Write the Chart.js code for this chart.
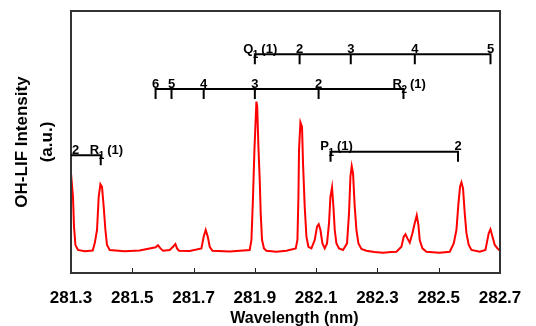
<!DOCTYPE html>
<html>
<head>
<meta charset="utf-8">
<script src="https://cdn.jsdelivr.net/npm/chart.js@4/dist/chart.umd.min.js"></script>
<style>
  html, body { margin: 0; padding: 0; background: #fff; }
  #wrap { width: 536px; height: 326px; position: relative; }
</style>
</head>
<body>
<div id="wrap"><canvas id="lifChart"></canvas></div>
<script>
// spectrum (intensity in arbitrary units, 0..100 = frame height)
var WAVELENGTH = [
  281.300, 281.3065, 281.3098, 281.3144, 281.3228, 281.345, 281.3708, 281.3774, 281.3849, 281.3904,
  281.396, 281.4012, 281.4067, 281.4123, 281.4175, 281.4263, 281.475, 281.524, 281.5764, 281.5839,
  281.5918, 281.6003, 281.6221, 281.6329, 281.6407, 281.646, 281.6525, 281.6874, 281.7256, 281.7331,
  281.7396, 281.7462, 281.7527, 281.7615, 281.818, 281.8832, 281.8888, 281.894, 281.8986, 281.9051,
  281.9077, 281.9116, 281.9159, 281.9191, 281.9234, 281.9299, 281.9377, 281.9704, 282.003, 282.0334,
  282.0389, 282.0422, 282.0441, 282.0487, 282.0539, 282.0572, 282.0627, 282.0683, 282.0748, 282.0846,
  282.0954, 282.1029, 282.1084, 282.114, 282.1205, 282.128, 282.1355, 282.142, 282.1466, 282.1518,
  282.1564, 282.1607, 282.1662, 282.1747, 282.1877, 282.2008, 282.2073, 282.2119, 282.2161, 282.2204,
  282.2259, 282.2315, 282.238, 282.2478, 282.2641, 282.29, 282.3183, 282.345, 282.362, 282.3783,
  282.3858, 282.3914, 282.3979, 282.4054, 282.4142, 282.4217, 282.4283, 282.4338, 282.438, 282.4469,
  282.46, 282.48, 282.5033, 282.536, 282.549, 282.5578, 282.5644, 282.5696, 282.5742, 282.5794,
  282.5849, 282.5905, 282.598, 282.6068, 282.6339, 282.6525, 282.6577, 282.6632, 282.6688, 282.6753,
  282.6829, 282.6916, 282.700
];
var INTENSITY = [
  38.0, 29.1, 17.7, 10.7, 8.8, 8.3, 8.6, 11.3, 16.4, 29.1,
  33.9, 32.9, 25.3, 16.4, 10.7, 8.8, 8.3, 8.6, 9.8, 10.6,
  9.4, 8.5, 8.8, 10.0, 11.1, 9.4, 8.5, 8.4, 9.4, 13.9,
  16.4, 13.9, 10.0, 8.5, 8.2, 8.8, 12.6, 29.1, 46.9, 65.4,
  63.5, 48.2, 35.5, 22.8, 12.6, 9.4, 8.5, 8.1, 8.5, 9.4,
  12.6, 29.1, 46.9, 57.5, 55.8, 41.9, 25.3, 13.9, 10.0, 9.4,
  12.6, 17.7, 18.6, 16.4, 11.3, 9.4, 11.3, 19.0, 29.1, 32.7,
  25.3, 16.4, 11.3, 9.4, 8.8, 11.3, 22.8, 36.8, 40.8, 38.0,
  25.3, 16.4, 11.3, 9.2, 8.5, 8.0, 7.7, 8.0, 8.1, 10.0,
  13.9, 14.8, 13.2, 11.6, 15.2, 19.0, 22.0, 18.3, 12.6, 9.4,
  8.1, 7.9, 7.7, 8.1, 11.3, 16.4, 26.6, 32.9, 34.6, 32.3,
  22.8, 15.2, 10.7, 8.8, 8.1, 8.8, 11.9, 15.2, 16.7, 13.9,
  10.7, 9.4, 8.5
];
var X_TICKS = [281.3, 281.5, 281.7, 281.9, 282.1, 282.3, 282.5, 282.7];

// rotational branches: name, bar level, line positions for N = 1, 2, 3 ...
var BRANCH_NAMES = ['Q1', 'R2', 'R1', 'P1'];
var BRANCH_LEVEL = [83.5, 70.2, 44.9, 46.3];
var Q1_LINES = [281.900, 282.046, 282.213, 282.422, 282.669];
var R2_LINES = [282.385, 282.108, 281.900, 281.733, 281.628, 281.576];
var R1_LINES = [281.397, 281.290];
var P1_LINES = [282.147, 282.563];
var BRANCH_LINES = [Q1_LINES, R2_LINES, R1_LINES, P1_LINES];

var FONT = "'Liberation Sans', Arial, sans-serif";
Chart.defaults.font.family = FONT;
Chart.defaults.color = '#000';

var branchPlugin = {
  id: 'branches',
  afterDatasetsDraw: function(chart) {
    var ctx = chart.ctx, a = chart.chartArea;
    var xs = chart.scales.x, ys = chart.scales.y;
    ctx.save();
    // small inward ticks on the bottom axis
    ctx.strokeStyle = '#222';
    ctx.lineWidth = 1;
    ctx.beginPath();
    X_TICKS.forEach(function(v){
      var p = Math.round(xs.getPixelForValue(v)) + 0.5;
      ctx.moveTo(p, a.bottom);
      ctx.lineTo(p, a.bottom - 5);
    });
    ctx.stroke();
    // frame
    ctx.strokeStyle = '#333';
    ctx.lineWidth = 2;
    ctx.strokeRect(a.left, a.top, a.right - a.left, a.bottom - a.top);

    ctx.strokeStyle = '#000';
    ctx.fillStyle = '#000';
    ctx.lineWidth = 2;
    for (var b = 0; b < BRANCH_NAMES.length; b++) {
      var name = BRANCH_NAMES[b];
      var yy = ys.getPixelForValue(BRANCH_LEVEL[b]);
      var px = BRANCH_LINES[b].map(function(w){ return xs.getPixelForValue(w); });
      var x0 = Math.max(a.left, Math.min.apply(null, px));
      var x1 = Math.min(a.right, Math.max.apply(null, px));
      ctx.beginPath();
      ctx.moveTo(x0, yy);
      ctx.lineTo(x1, yy);
      for (var i = 0; i < px.length; i++) {
        if (px[i] < a.left) continue;
        ctx.moveTo(px[i], yy - 1);
        ctx.lineTo(px[i], yy + 10);
      }
      ctx.stroke();

      ctx.textBaseline = 'alphabetic';
      for (var i = 0; i < px.length; i++) {
        var p = px[i];
        ctx.font = 'bold 13px ' + FONT;
        if (i === 0) {
          ctx.textAlign = 'right';
          ctx.fillText(name[0], p - 1.5, yy - 1.5);
          ctx.font = 'bold 10px ' + FONT;
          ctx.textAlign = 'left';
          ctx.fillText(name[1], p - 2, yy + 4);
          ctx.font = 'bold 13px ' + FONT;
          ctx.fillText('(1)', p + 6.5, yy - 1.5);
        } else if (p < a.left) {
          ctx.textAlign = 'left';
          ctx.fillText(String(i + 1), a.left + 1, yy - 1.5);
        } else {
          ctx.textAlign = 'center';
          ctx.fillText(String(i + 1), p, yy - 1.5);
        }
      }
    }
    ctx.restore();
  }
};

var points = WAVELENGTH.map(function(w, i){ return {x: w, y: INTENSITY[i]}; });

new Chart(document.getElementById('lifChart'), {
  type: 'line',
  data: {
    datasets: [{
      data: points,
      borderColor: '#ff0000',
      borderWidth: 2,
      pointRadius: 0,
      tension: 0,
      fill: false
    }]
  },
  options: {
    responsive: true,
    maintainAspectRatio: false,
    animation: false,
    layout: { padding: { top: 11, right: 36, bottom: 0, left: 0 } },
    plugins: { legend: { display: false }, tooltip: { enabled: false } },
    scales: {
      x: {
        type: 'linear',
        min: 281.3,
        max: 282.7,
        afterBuildTicks: function(s){ s.ticks = X_TICKS.map(function(v){ return {value: v}; }); },
        afterFit: function(s){ s.height = 53; s.paddingLeft = 0; s.paddingRight = 0; },
        ticks: {
          autoSkip: false,
          maxRotation: 0,
          padding: 15,
          color: '#000',
          font: { size: 17, weight: 'bold' },
          callback: function(v){ return Number(v).toFixed(1); }
        },
        grid: { display: false, drawTicks: false },
        border: { display: false },
        title: {
          display: true,
          text: '    Wavelength (nm)',
          color: '#000',
          font: { size: 16, weight: 'bold' },
          padding: { top: 0, bottom: -2 }
        }
      },
      y: {
        min: 0,
        max: 100,
        afterFit: function(s){ s.width = 71; },
        ticks: { display: false },
        grid: { display: false },
        border: { display: false },
        title: {
          display: true,
          text: ['OH-LIF Intensity', '(a.u.)'],
          color: '#000',
          font: { size: 17, weight: 'bold', lineHeight: 1.47 },
          padding: { top: 9.5, bottom: 0 }
        }
      }
    }
  },
  plugins: [branchPlugin]
});
</script>
</body>
</html>
